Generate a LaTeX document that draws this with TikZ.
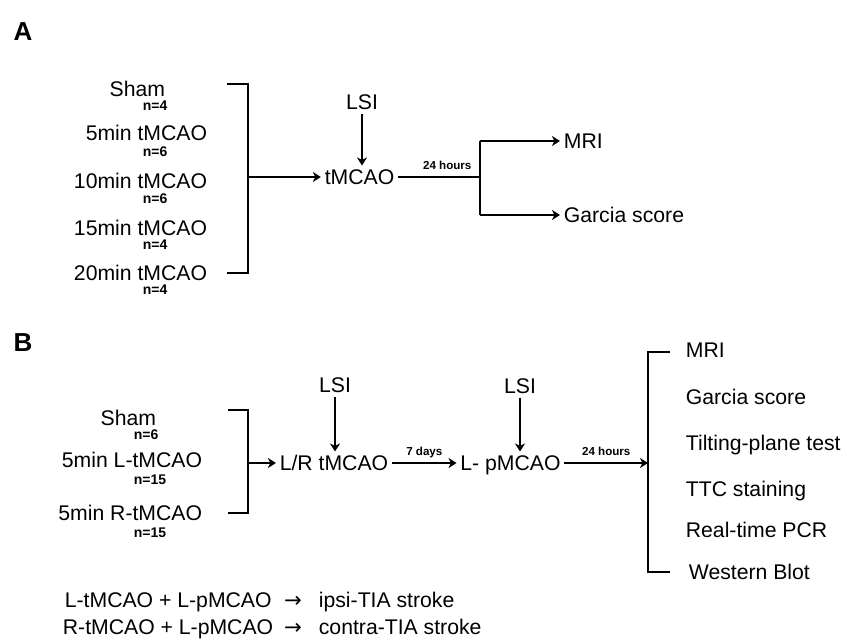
\documentclass[tikz,border=0pt]{standalone}
\usepackage{fontspec}
\setmainfont{Liberation Sans}
\newfontfamily\arrowfont{DejaVu Sans}
\usetikzlibrary{arrows.meta}

\begin{document}
\begin{tikzpicture}[x=0.5pt,y=-0.5pt,line width=0.9pt,
    lbl/.style={font=\fontsize{10.6}{12}\selectfont,inner sep=1.5pt,text height=7.6pt,text depth=0pt},
    num/.style={font=\bfseries\fontsize{7}{8}\selectfont,inner sep=0pt,anchor=west,text height=5pt,text depth=0pt},
    timelbl/.style={font=\bfseries\fontsize{5.8}{7}\selectfont,above=3.5pt,inner sep=0pt,text height=4.2pt,text depth=0pt},
    panel/.style={font=\bfseries\fontsize{13}{15}\selectfont,inner sep=0pt,text height=9.3pt,text depth=0pt},
    arr/.style={-{Stealth[length=4pt,width=5pt,inset=1.2pt]}}]

      \useasboundingbox (0,0) rectangle (843,643);

      % panel A
      \node[panel] (A) at (23,31) {A};

      \begin{scope}[every node/.style={lbl,anchor=east}]
        \node (sham) at (169,89)  {Sham};
        \node (g5)   at (211,133) {5min tMCAO};
        \node (g10)  at (211,181) {10min tMCAO};
        \node (g15)  at (211,228) {15min tMCAO};
        \node (g20)  at (211,273) {20min tMCAO};
      \end{scope}

      \begin{scope}[every node/.style={num}]
        \node (n1) at (142,105) {n=4};
        \node (n2) at (142,151) {n=6};
        \node (n3) at (142,198) {n=6};
        \node (n4) at (142,244) {n=4};
        \node (n5) at (142,289) {n=4};
      \end{scope}

      \begin{scope}[every node/.style={lbl}]
        \node (lsiA)  at (362,102)   {LSI};
        \node (tmcao) at (359.5,177) {tMCAO};
        \node[anchor=west] (mriA)    at (560,141) {MRI};
        \node[anchor=west] (garciaA) at (560,215) {Garcia score};
      \end{scope}

      \coordinate (aTop)   at (227,84);
      \coordinate (aBot)   at (227,273);
      \coordinate (aMid)   at (248,177);
      \coordinate (aSplit) at (480,177);
      \coordinate (aUp)    at (480,141);
      \coordinate (aDown)  at (480,215);

      \draw (aTop) -| (aMid) |- (aBot);
      \draw[arr] (aMid) -- (tmcao);
      \draw[arr] (lsiA) -- (lsiA |- tmcao.north);
      \draw (tmcao) -- node[timelbl,pos=0.6] {24 hours} (aSplit);
      \draw (aUp) -- (aDown);
      \draw[arr] (aUp) -- (mriA);
      \draw[arr] (aDown) -- (garciaA);

      % panel B
      \node[panel] (B) at (23,342) {B};

      \begin{scope}[every node/.style={lbl,anchor=east}]
        \node (shamB) at (160,418) {Sham};
        \node (gL)    at (206,460) {5min L-tMCAO};
        \node (gR)    at (206,513) {5min R-tMCAO};
      \end{scope}

      \begin{scope}[every node/.style={num}]
        \node (m1) at (133,434) {n=6};
        \node (m2) at (133,479) {n=15};
        \node (m3) at (133,532) {n=15};
      \end{scope}

      \begin{scope}[every node/.style={lbl}]
        \node (lsiB)  at (335,385)   {LSI};
        \node (lrt)   at (334,463)   {L/R tMCAO};
        \node (lsiC)  at (520,386)   {LSI};
        \node (lpm)   at (510.5,463) {L- pMCAO};
      \end{scope}

      \begin{scope}[every node/.style={lbl,anchor=west}]
        \node (r1) at (682,350) {MRI};
        \node (r2) at (682,397) {Garcia score};
        \node (r3) at (682,443) {Tilting-plane test};
        \node (r4) at (682,489) {TTC staining};
        \node (r5) at (682,530) {Real-time PCR};
        \node (r6) at (685,572) {Western Blot};
      \end{scope}

      \coordinate (bTop)   at (228,410);
      \coordinate (bBot)   at (228,513);
      \coordinate (bMid)   at (248,463);
      \coordinate (cTop)   at (670,352);
      \coordinate (cBot)   at (670,572);
      \coordinate (bSplit) at (648,463);

      \draw (bTop) -| (bMid) |- (bBot);
      \draw[arr] (bMid) -- (lrt);
      \draw[arr] (lsiB) -- (lsiB |- lrt.north);
      \draw[arr] (lsiC) -- (lsiC |- lpm.north);
      \draw[arr] (lrt) -- node[timelbl] {7 days} (lpm);
      \draw[arr] (lpm) -- node[timelbl] {24 hours} (bSplit);
      \draw (cTop) -| (bSplit) |- (cBot);

      % legend
      \begin{scope}[every node/.style={lbl}]
        \node[anchor=west] (k1) at (61,600) {L-tMCAO + L-pMCAO};
        \node (k1a)             at (293,600) {\arrowfont →};
        \node[anchor=west] (k1b) at (315,600) {ipsi-TIA stroke};
        \node[anchor=west] (k2) at (59,627) {R-tMCAO + L-pMCAO};
        \node (k2a)             at (293,627) {\arrowfont →};
        \node[anchor=west] (k2b) at (315,627) {contra-TIA stroke};
      \end{scope}

    \end{tikzpicture}
\end{document}
